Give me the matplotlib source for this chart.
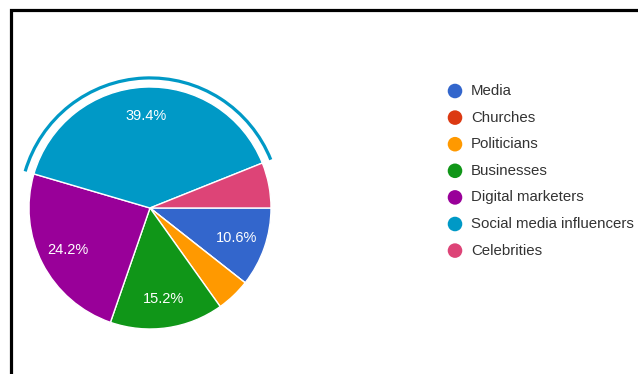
import matplotlib
matplotlib.use("Agg")
import matplotlib.pyplot as plt
from matplotlib.patches import Arc
import numpy as np

plt.rcParams['font.family'] = ['Liberation Sans', 'DejaVu Sans']

# responses per answer option
labels = ['Media', 'Churches', 'Politicians', 'Businesses',
          'Digital marketers', 'Social media influencers', 'Celebrities']
counts = [7, 0, 3, 10, 16, 26, 4]
colors = ['#3366CC', '#DC3912', '#FF9900', '#109618',
          '#990099', '#0099C6', '#DD4477']
highlight = 'Social media influencers'

W, H = 638, 374
fig = plt.figure(figsize=(W / 100, H / 100), dpi=100)

# pie axes: centre (150, 208) px, radius 121 px
cx, cy, r_px, half = 150, 208, 121, 140
ax = fig.add_axes([(cx - half) / W, (H - cy - half) / H, 2 * half / W, 2 * half / H])
wedges, _ = ax.pie(counts, colors=colors, startangle=0, counterclock=False,
                   radius=1.0, wedgeprops=dict(edgecolor='white', linewidth=1.0))
lim = half / r_px
ax.set_xlim(-lim, lim)
ax.set_ylim(-lim, lim)
ax.set_aspect('equal')
ax.axis('off')

# percentage labels on the bigger slices
total = sum(counts)
for w, c in zip(wedges, counts):
    pct = 100 * c / total
    if pct < 10:
        continue
    mid = np.deg2rad((w.theta1 + w.theta2) / 2)
    d = 0.76
    ax.text(d * np.cos(mid), d * np.sin(mid), f'{pct:.1f}%', color='white',
            fontsize=10.5, ha='center', va='center')

# hover ring around the selected slice
hw = wedges[labels.index(highlight)]
ax.add_patch(Arc((0, 0), 2 * 1.075, 2 * 1.075, theta1=hw.theta1, theta2=hw.theta2,
                 color=colors[labels.index(highlight)], linewidth=2.3))

# overlay in pixel units for the frame and the legend
ov = fig.add_axes([0, 0, 1, 1])
ov.set_xlim(0, W)
ov.set_ylim(H, 0)
ov.axis('off')
ov.plot([10.5, 10.5, W + 5], [H + 5, 9.5, 9.5], color='black', linewidth=2.3,
        solid_joinstyle='miter')

y0, step = 91, 26.6
for i, (lab, col) in enumerate(zip(labels, colors)):
    y = y0 + i * step
    ov.scatter([455], [y], s=110, color=col, edgecolors='none')
    ov.text(471, y, lab, fontsize=10.8, color='#333333', va='center', ha='left')

fig.savefig('out.png', dpi=100)
